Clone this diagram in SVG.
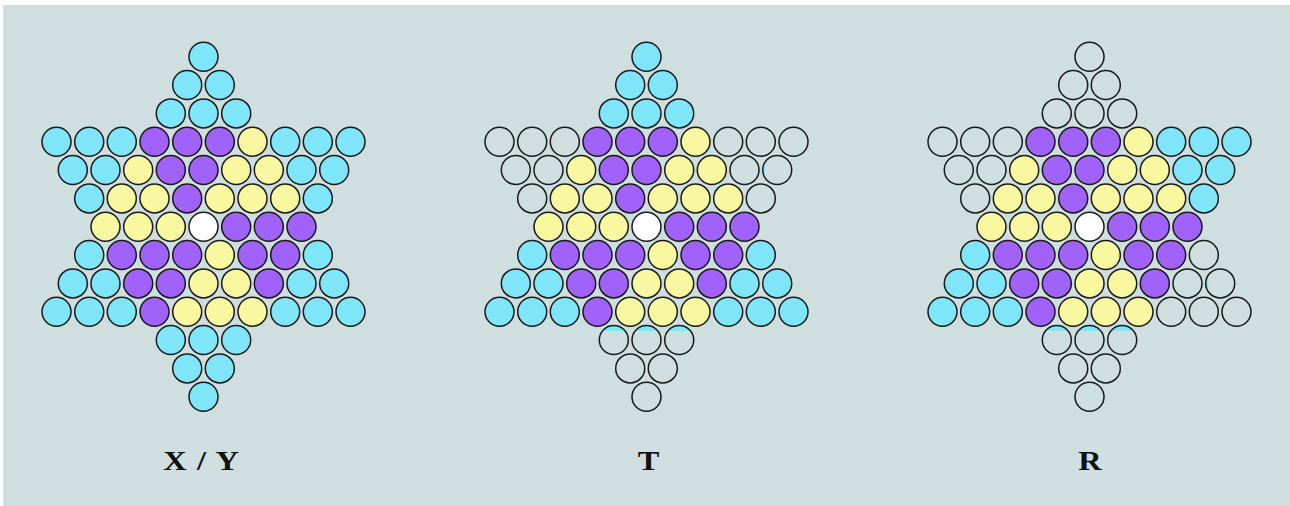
<svg xmlns="http://www.w3.org/2000/svg" width="1290" height="506" viewBox="0 0 1290 506">
<style>
circle{stroke:#1a1a1a;stroke-width:1.5}
.c{fill:#7fe6fa}.p{fill:#a062f8}.y{fill:#f8f8a0}.w{fill:#ffffff}.e{fill:none}
.s{fill:#7fe6fa;stroke:none}
.lbl{font-family:"Liberation Serif","Times New Roman",serif;font-weight:bold;font-size:27px;fill:#111;text-anchor:middle}
</style>
<rect x="0" y="0" width="1290" height="506" fill="#ffffff"/>
<rect x="3" y="5" width="1287" height="501" fill="#cfdfdf"/>
<g id="star-xy" transform="translate(203.5,226.7)">
<circle class="c" cx="0" cy="-170" r="14.5"/>
<circle class="c" cx="-16.3" cy="-141.7" r="14.5"/><circle class="c" cx="16.3" cy="-141.7" r="14.5"/>
<circle class="c" cx="-32.7" cy="-113.3" r="14.5"/><circle class="c" cx="0" cy="-113.3" r="14.5"/><circle class="c" cx="32.7" cy="-113.3" r="14.5"/>
<circle class="c" cx="-147" cy="-85" r="14.5"/><circle class="c" cx="-114.3" cy="-85" r="14.5"/><circle class="c" cx="-81.7" cy="-85" r="14.5"/><circle class="p" cx="-49" cy="-85" r="14.5"/><circle class="p" cx="-16.3" cy="-85" r="14.5"/><circle class="p" cx="16.3" cy="-85" r="14.5"/><circle class="y" cx="49" cy="-85" r="14.5"/><circle class="c" cx="81.7" cy="-85" r="14.5"/><circle class="c" cx="114.3" cy="-85" r="14.5"/><circle class="c" cx="147" cy="-85" r="14.5"/>
<circle class="c" cx="-130.7" cy="-56.7" r="14.5"/><circle class="c" cx="-98" cy="-56.7" r="14.5"/><circle class="y" cx="-65.3" cy="-56.7" r="14.5"/><circle class="p" cx="-32.7" cy="-56.7" r="14.5"/><circle class="p" cx="0" cy="-56.7" r="14.5"/><circle class="y" cx="32.7" cy="-56.7" r="14.5"/><circle class="y" cx="65.3" cy="-56.7" r="14.5"/><circle class="c" cx="98" cy="-56.7" r="14.5"/><circle class="c" cx="130.7" cy="-56.7" r="14.5"/>
<circle class="c" cx="-114.3" cy="-28.3" r="14.5"/><circle class="y" cx="-81.7" cy="-28.3" r="14.5"/><circle class="y" cx="-49" cy="-28.3" r="14.5"/><circle class="p" cx="-16.3" cy="-28.3" r="14.5"/><circle class="y" cx="16.3" cy="-28.3" r="14.5"/><circle class="y" cx="49" cy="-28.3" r="14.5"/><circle class="y" cx="81.7" cy="-28.3" r="14.5"/><circle class="c" cx="114.3" cy="-28.3" r="14.5"/>
<circle class="y" cx="-98" cy="0" r="14.5"/><circle class="y" cx="-65.3" cy="0" r="14.5"/><circle class="y" cx="-32.7" cy="0" r="14.5"/><circle class="w" cx="0" cy="0" r="14.5"/><circle class="p" cx="32.7" cy="0" r="14.5"/><circle class="p" cx="65.3" cy="0" r="14.5"/><circle class="p" cx="98" cy="0" r="14.5"/>
<circle class="c" cx="-114.3" cy="28.3" r="14.5"/><circle class="p" cx="-81.7" cy="28.3" r="14.5"/><circle class="p" cx="-49" cy="28.3" r="14.5"/><circle class="p" cx="-16.3" cy="28.3" r="14.5"/><circle class="y" cx="16.3" cy="28.3" r="14.5"/><circle class="p" cx="49" cy="28.3" r="14.5"/><circle class="p" cx="81.7" cy="28.3" r="14.5"/><circle class="c" cx="114.3" cy="28.3" r="14.5"/>
<circle class="c" cx="-130.7" cy="56.7" r="14.5"/><circle class="c" cx="-98" cy="56.7" r="14.5"/><circle class="p" cx="-65.3" cy="56.7" r="14.5"/><circle class="p" cx="-32.7" cy="56.7" r="14.5"/><circle class="y" cx="0" cy="56.7" r="14.5"/><circle class="y" cx="32.7" cy="56.7" r="14.5"/><circle class="p" cx="65.3" cy="56.7" r="14.5"/><circle class="c" cx="98" cy="56.7" r="14.5"/><circle class="c" cx="130.7" cy="56.7" r="14.5"/>
<circle class="c" cx="-147" cy="85" r="14.5"/><circle class="c" cx="-114.3" cy="85" r="14.5"/><circle class="c" cx="-81.7" cy="85" r="14.5"/><circle class="p" cx="-49" cy="85" r="14.5"/><circle class="y" cx="-16.3" cy="85" r="14.5"/><circle class="y" cx="16.3" cy="85" r="14.5"/><circle class="y" cx="49" cy="85" r="14.5"/><circle class="c" cx="81.7" cy="85" r="14.5"/><circle class="c" cx="114.3" cy="85" r="14.5"/><circle class="c" cx="147" cy="85" r="14.5"/>
<circle class="c" cx="-32.7" cy="113.3" r="14.5"/><circle class="c" cx="0" cy="113.3" r="14.5"/><circle class="c" cx="32.7" cy="113.3" r="14.5"/>
<circle class="c" cx="-16.3" cy="141.7" r="14.5"/><circle class="c" cx="16.3" cy="141.7" r="14.5"/>
<circle class="c" cx="0" cy="170" r="14.5"/>
</g>
<g id="star-t" transform="translate(646.5,226.7)">
<path class="s" d="M-44.1,104.3A14.5 14.5 0 0 1 -21.3,104.3ZM-11.4,104.3A14.5 14.5 0 0 1 11.4,104.3ZM21.3,104.3A14.5 14.5 0 0 1 44.1,104.3Z"/>
<ellipse class="s" cx="117.5" cy="-56.7" rx="1.2" ry="5"/>
<circle class="c" cx="0" cy="-170" r="14.5"/>
<circle class="c" cx="-16.3" cy="-141.7" r="14.5"/><circle class="c" cx="16.3" cy="-141.7" r="14.5"/>
<circle class="c" cx="-32.7" cy="-113.3" r="14.5"/><circle class="c" cx="0" cy="-113.3" r="14.5"/><circle class="c" cx="32.7" cy="-113.3" r="14.5"/>
<circle class="e" cx="-147" cy="-85" r="14.5"/><circle class="e" cx="-114.3" cy="-85" r="14.5"/><circle class="e" cx="-81.7" cy="-85" r="14.5"/><circle class="p" cx="-49" cy="-85" r="14.5"/><circle class="p" cx="-16.3" cy="-85" r="14.5"/><circle class="p" cx="16.3" cy="-85" r="14.5"/><circle class="y" cx="49" cy="-85" r="14.5"/><circle class="e" cx="81.7" cy="-85" r="14.5"/><circle class="e" cx="114.3" cy="-85" r="14.5"/><circle class="e" cx="147" cy="-85" r="14.5"/>
<circle class="e" cx="-130.7" cy="-56.7" r="14.5"/><circle class="e" cx="-98" cy="-56.7" r="14.5"/><circle class="y" cx="-65.3" cy="-56.7" r="14.5"/><circle class="p" cx="-32.7" cy="-56.7" r="14.5"/><circle class="p" cx="0" cy="-56.7" r="14.5"/><circle class="y" cx="32.7" cy="-56.7" r="14.5"/><circle class="y" cx="65.3" cy="-56.7" r="14.5"/><circle class="e" cx="98" cy="-56.7" r="14.5"/><circle class="e" cx="130.7" cy="-56.7" r="14.5"/>
<circle class="e" cx="-114.3" cy="-28.3" r="14.5"/><circle class="y" cx="-81.7" cy="-28.3" r="14.5"/><circle class="y" cx="-49" cy="-28.3" r="14.5"/><circle class="p" cx="-16.3" cy="-28.3" r="14.5"/><circle class="y" cx="16.3" cy="-28.3" r="14.5"/><circle class="y" cx="49" cy="-28.3" r="14.5"/><circle class="y" cx="81.7" cy="-28.3" r="14.5"/><circle class="e" cx="114.3" cy="-28.3" r="14.5"/>
<circle class="y" cx="-98" cy="0" r="14.5"/><circle class="y" cx="-65.3" cy="0" r="14.5"/><circle class="y" cx="-32.7" cy="0" r="14.5"/><circle class="w" cx="0" cy="0" r="14.5"/><circle class="p" cx="32.7" cy="0" r="14.5"/><circle class="p" cx="65.3" cy="0" r="14.5"/><circle class="p" cx="98" cy="0" r="14.5"/>
<circle class="c" cx="-114.3" cy="28.3" r="14.5"/><circle class="p" cx="-81.7" cy="28.3" r="14.5"/><circle class="p" cx="-49" cy="28.3" r="14.5"/><circle class="p" cx="-16.3" cy="28.3" r="14.5"/><circle class="y" cx="16.3" cy="28.3" r="14.5"/><circle class="p" cx="49" cy="28.3" r="14.5"/><circle class="p" cx="81.7" cy="28.3" r="14.5"/><circle class="c" cx="114.3" cy="28.3" r="14.5"/>
<circle class="c" cx="-130.7" cy="56.7" r="14.5"/><circle class="c" cx="-98" cy="56.7" r="14.5"/><circle class="p" cx="-65.3" cy="56.7" r="14.5"/><circle class="p" cx="-32.7" cy="56.7" r="14.5"/><circle class="y" cx="0" cy="56.7" r="14.5"/><circle class="y" cx="32.7" cy="56.7" r="14.5"/><circle class="p" cx="65.3" cy="56.7" r="14.5"/><circle class="c" cx="98" cy="56.7" r="14.5"/><circle class="c" cx="130.7" cy="56.7" r="14.5"/>
<circle class="c" cx="-147" cy="85" r="14.5"/><circle class="c" cx="-114.3" cy="85" r="14.5"/><circle class="c" cx="-81.7" cy="85" r="14.5"/><circle class="p" cx="-49" cy="85" r="14.5"/><circle class="y" cx="-16.3" cy="85" r="14.5"/><circle class="y" cx="16.3" cy="85" r="14.5"/><circle class="y" cx="49" cy="85" r="14.5"/><circle class="c" cx="81.7" cy="85" r="14.5"/><circle class="c" cx="114.3" cy="85" r="14.5"/><circle class="c" cx="147" cy="85" r="14.5"/>
<circle class="e" cx="-32.7" cy="113.3" r="14.5"/><circle class="e" cx="0" cy="113.3" r="14.5"/><circle class="e" cx="32.7" cy="113.3" r="14.5"/>
<circle class="e" cx="-16.3" cy="141.7" r="14.5"/><circle class="e" cx="16.3" cy="141.7" r="14.5"/>
<circle class="e" cx="0" cy="170" r="14.5"/>
</g>
<g id="star-r" transform="translate(1089.5,226.7)">
<path class="s" d="M-44.1,104.3A14.5 14.5 0 0 1 -21.3,104.3ZM-11.4,104.3A14.5 14.5 0 0 1 11.4,104.3ZM21.3,104.3A14.5 14.5 0 0 1 44.1,104.3Z"/>
<ellipse class="s" cx="117.5" cy="56.7" rx="1.2" ry="5"/>
<circle class="e" cx="0" cy="-170" r="14.5"/>
<circle class="e" cx="-16.3" cy="-141.7" r="14.5"/><circle class="e" cx="16.3" cy="-141.7" r="14.5"/>
<circle class="e" cx="-32.7" cy="-113.3" r="14.5"/><circle class="e" cx="0" cy="-113.3" r="14.5"/><circle class="e" cx="32.7" cy="-113.3" r="14.5"/>
<circle class="e" cx="-147" cy="-85" r="14.5"/><circle class="e" cx="-114.3" cy="-85" r="14.5"/><circle class="e" cx="-81.7" cy="-85" r="14.5"/><circle class="p" cx="-49" cy="-85" r="14.5"/><circle class="p" cx="-16.3" cy="-85" r="14.5"/><circle class="p" cx="16.3" cy="-85" r="14.5"/><circle class="y" cx="49" cy="-85" r="14.5"/><circle class="c" cx="81.7" cy="-85" r="14.5"/><circle class="c" cx="114.3" cy="-85" r="14.5"/><circle class="c" cx="147" cy="-85" r="14.5"/>
<circle class="e" cx="-130.7" cy="-56.7" r="14.5"/><circle class="e" cx="-98" cy="-56.7" r="14.5"/><circle class="y" cx="-65.3" cy="-56.7" r="14.5"/><circle class="p" cx="-32.7" cy="-56.7" r="14.5"/><circle class="p" cx="0" cy="-56.7" r="14.5"/><circle class="y" cx="32.7" cy="-56.7" r="14.5"/><circle class="y" cx="65.3" cy="-56.7" r="14.5"/><circle class="c" cx="98" cy="-56.7" r="14.5"/><circle class="c" cx="130.7" cy="-56.7" r="14.5"/>
<circle class="e" cx="-114.3" cy="-28.3" r="14.5"/><circle class="y" cx="-81.7" cy="-28.3" r="14.5"/><circle class="y" cx="-49" cy="-28.3" r="14.5"/><circle class="p" cx="-16.3" cy="-28.3" r="14.5"/><circle class="y" cx="16.3" cy="-28.3" r="14.5"/><circle class="y" cx="49" cy="-28.3" r="14.5"/><circle class="y" cx="81.7" cy="-28.3" r="14.5"/><circle class="c" cx="114.3" cy="-28.3" r="14.5"/>
<circle class="y" cx="-98" cy="0" r="14.5"/><circle class="y" cx="-65.3" cy="0" r="14.5"/><circle class="y" cx="-32.7" cy="0" r="14.5"/><circle class="w" cx="0" cy="0" r="14.5"/><circle class="p" cx="32.7" cy="0" r="14.5"/><circle class="p" cx="65.3" cy="0" r="14.5"/><circle class="p" cx="98" cy="0" r="14.5"/>
<circle class="c" cx="-114.3" cy="28.3" r="14.5"/><circle class="p" cx="-81.7" cy="28.3" r="14.5"/><circle class="p" cx="-49" cy="28.3" r="14.5"/><circle class="p" cx="-16.3" cy="28.3" r="14.5"/><circle class="y" cx="16.3" cy="28.3" r="14.5"/><circle class="p" cx="49" cy="28.3" r="14.5"/><circle class="p" cx="81.7" cy="28.3" r="14.5"/><circle class="e" cx="114.3" cy="28.3" r="14.5"/>
<circle class="c" cx="-130.7" cy="56.7" r="14.5"/><circle class="c" cx="-98" cy="56.7" r="14.5"/><circle class="p" cx="-65.3" cy="56.7" r="14.5"/><circle class="p" cx="-32.7" cy="56.7" r="14.5"/><circle class="y" cx="0" cy="56.7" r="14.5"/><circle class="y" cx="32.7" cy="56.7" r="14.5"/><circle class="p" cx="65.3" cy="56.7" r="14.5"/><circle class="e" cx="98" cy="56.7" r="14.5"/><circle class="e" cx="130.7" cy="56.7" r="14.5"/>
<circle class="c" cx="-147" cy="85" r="14.5"/><circle class="c" cx="-114.3" cy="85" r="14.5"/><circle class="c" cx="-81.7" cy="85" r="14.5"/><circle class="p" cx="-49" cy="85" r="14.5"/><circle class="y" cx="-16.3" cy="85" r="14.5"/><circle class="y" cx="16.3" cy="85" r="14.5"/><circle class="y" cx="49" cy="85" r="14.5"/><circle class="e" cx="81.7" cy="85" r="14.5"/><circle class="e" cx="114.3" cy="85" r="14.5"/><circle class="e" cx="147" cy="85" r="14.5"/>
<circle class="e" cx="-32.7" cy="113.3" r="14.5"/><circle class="e" cx="0" cy="113.3" r="14.5"/><circle class="e" cx="32.7" cy="113.3" r="14.5"/>
<circle class="e" cx="-16.3" cy="141.7" r="14.5"/><circle class="e" cx="16.3" cy="141.7" r="14.5"/>
<circle class="e" cx="0" cy="170" r="14.5"/>
</g>
<g id="labels">
<text class="lbl" transform="translate(201,470) scale(1.2,1)" word-spacing="2">X / Y</text>
<text class="lbl" transform="translate(648.5,470) scale(1.2,1)">T</text>
<text class="lbl" transform="translate(1090,470) scale(1.2,1)">R</text>
</g>
</svg>
